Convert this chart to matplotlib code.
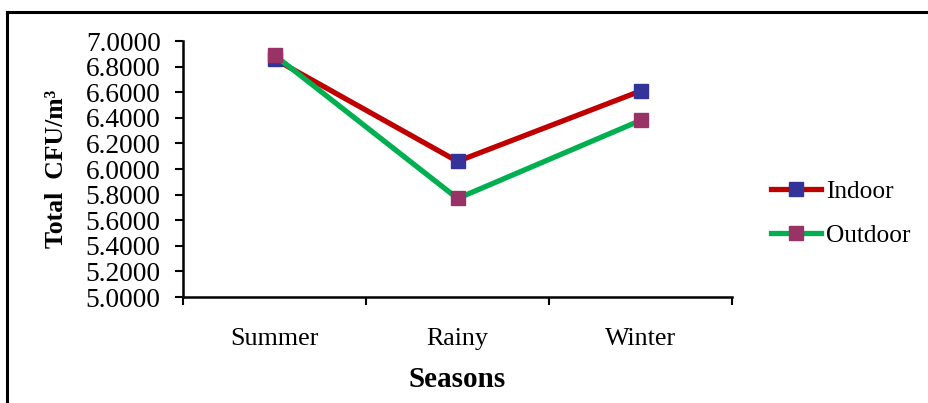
import matplotlib.pyplot as plt
from matplotlib.lines import Line2D
from matplotlib.ticker import FormatStrFormatter, FixedLocator

# --- data ---
seasons = ['Summer', 'Rainy', 'Winter']
indoor = [6.86, 6.06, 6.61]
outdoor = [6.89, 5.77, 6.38]
y_ticks = [5.0, 5.2, 5.4, 5.6, 5.8, 6.0, 6.2, 6.4, 6.6, 6.8, 7.0]

plt.rcParams['font.family'] = ['Liberation Serif', 'DejaVu Serif']

fig = plt.figure(figsize=(9.29, 4.03), dpi=100)
ax = fig.add_axes([0.197, 0.263, 0.591, 0.635])

x = range(len(seasons))
ax.plot(x, indoor, color='#C00000', lw=3.8, marker='s', ms=10.5,
        mfc='#333399', mec='#333399', label='Indoor')
ax.plot(x, outdoor, color='#00B050', lw=3.8, marker='s', ms=10.5,
        mfc='#993366', mec='#993366', label='Outdoor')

ax.set_xlim(-0.5, 2.5)
ax.set_ylim(5.0, 7.0)
ax.set_yticks(y_ticks)
ax.yaxis.set_major_formatter(FormatStrFormatter('%.4f'))
ax.xaxis.set_major_locator(FixedLocator([-0.5, 0.5, 1.5, 2.5]))
ax.xaxis.set_minor_locator(FixedLocator(list(x)))
ax.set_xticklabels([])
ax.set_xticklabels(seasons, minor=True)
ax.tick_params(axis='x', which='major', length=6, width=1.5, direction='out')
ax.tick_params(axis='x', which='minor', length=0, pad=22.5, labelsize=18.7)
ax.tick_params(axis='y', length=6, width=1.5, direction='out', pad=10, labelsize=19.7)

for s in ['top', 'right']:
    ax.spines[s].set_visible(False)
for s in ['left', 'bottom']:
    ax.spines[s].set_linewidth(1.8)

ax.set_xlabel('Seasons', fontsize=21, fontweight='bold', labelpad=11)
ax.set_ylabel('Total  CFU/m³', fontsize=18.5, fontweight='bold', labelpad=13)

ax.legend(loc='center left', bbox_to_anchor=(1.03, 0.326), frameon=False,
          fontsize=18.3, handlelength=1.95, handletextpad=0.2, labelspacing=0.85)

# frame around the figure (top and left edges visible)
fig.add_artist(Line2D([7/929, 1], [1-12/403, 1-12/403], color='black', lw=2.2,
                      transform=fig.transFigure))
fig.add_artist(Line2D([7/929, 7/929], [0, 1-12/403], color='black', lw=2.2,
                      transform=fig.transFigure))

plt.savefig('out.png', dpi=100)
